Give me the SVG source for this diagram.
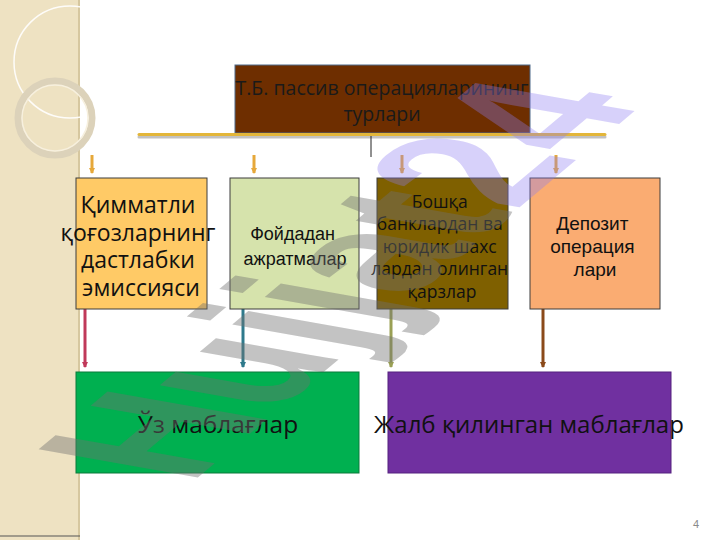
<svg xmlns="http://www.w3.org/2000/svg" width="720" height="540" viewBox="0 0 720 540">
<defs>
<style>
.os{font-family:"Open Sans","Noto Sans","DejaVu Sans",sans-serif;text-anchor:middle}
.ls{font-family:"Liberation Sans",Arial,sans-serif;text-anchor:middle}
.box{stroke:#3d3d3d;stroke-width:1}
.gold{stroke:#E6A83A;stroke-width:3;fill:none}
.wm{font-family:"Liberation Sans",Arial,sans-serif;font-weight:bold}
</style>
<marker id="ag" markerWidth="8" markerHeight="8" refX="4" refY="6" viewBox="0 0 8 8" orient="0" markerUnits="userSpaceOnUse"><path d="M1,1 L4,7 L7,1 Z" fill="#E6A83A"/></marker>
<marker id="a1" markerWidth="8" markerHeight="8" refX="4" refY="6" viewBox="0 0 8 8" orient="0" markerUnits="userSpaceOnUse"><path d="M1,1 L4,7 L7,1 Z" fill="#C0395A"/></marker>
<marker id="a2" markerWidth="8" markerHeight="8" refX="4" refY="6" viewBox="0 0 8 8" orient="0" markerUnits="userSpaceOnUse"><path d="M1,1 L4,7 L7,1 Z" fill="#2F7A8C"/></marker>
<marker id="a3" markerWidth="8" markerHeight="8" refX="4" refY="6" viewBox="0 0 8 8" orient="0" markerUnits="userSpaceOnUse"><path d="M1,1 L4,7 L7,1 Z" fill="#9AA055"/></marker>
<marker id="a4" markerWidth="8" markerHeight="8" refX="4" refY="6" viewBox="0 0 8 8" orient="0" markerUnits="userSpaceOnUse"><path d="M1,1 L4,7 L7,1 Z" fill="#8B4A1A"/></marker>
</defs>
<rect width="720" height="540" fill="#ffffff"/>
<g id="sidebar">
<rect x="0" y="0" width="80" height="540" fill="#EEE2C2"/>
<line x1="79" y1="0" x2="79" y2="540" stroke="#D6C79F" stroke-width="2"/>
<line x1="0" y1="536" x2="80" y2="536" stroke="#555" stroke-width="1"/>
<circle cx="70" cy="62" r="56" fill="none" stroke="#FFFFFF" stroke-width="1.5" opacity="0.9"/>
<circle cx="55" cy="118" r="37" fill="none" stroke="#DCD2BA" stroke-width="7"/>
<circle cx="55" cy="118" r="33" fill="none" stroke="#F7F0DE" stroke-width="1.5"/>
</g>
<g id="title">
<rect x="235" y="65" width="295" height="68" fill="#6E2E00" stroke="#4F6A8A" stroke-width="1"/>
<text class="os" x="382" y="95" font-size="19.5" fill="#1a1a1a">Т.Б. пассив операцияларининг</text>
<text class="os" x="382" y="121" font-size="19.5" fill="#1a1a1a">турлари</text>
</g>
<g id="connectors">
<line x1="139" y1="137" x2="605" y2="137" stroke="#9a9a9a" stroke-width="3" opacity="0.6" stroke-linecap="round"/>
<line x1="139" y1="134.5" x2="605" y2="134.5" stroke="#E3B63A" stroke-width="3" stroke-linecap="round"/>
<line x1="371" y1="136" x2="371" y2="157" stroke="#222" stroke-width="1"/>
<line class="gold" x1="92" y1="155" x2="92" y2="173" marker-end="url(#ag)"/>
<line class="gold" x1="254" y1="155" x2="254" y2="173" marker-end="url(#ag)"/>
<line class="gold" x1="402" y1="155" x2="402" y2="173" marker-end="url(#ag)"/>
<line class="gold" x1="556" y1="155" x2="556" y2="173" marker-end="url(#ag)"/>
<line x1="85" y1="309" x2="85" y2="367" stroke="#C0395A" stroke-width="3" marker-end="url(#a1)"/>
<line x1="243" y1="309" x2="243" y2="367" stroke="#2F7A8C" stroke-width="3" marker-end="url(#a2)"/>
<line x1="391" y1="309" x2="391" y2="367" stroke="#9AA055" stroke-width="3" marker-end="url(#a3)"/>
<line x1="543" y1="309" x2="543" y2="367" stroke="#8B4A1A" stroke-width="3" marker-end="url(#a4)"/>
</g>
<g id="n1">
<rect class="box" x="76" y="178" width="131" height="131" fill="#FFCA66"/>
<text class="os" font-size="23" fill="#111">
<tspan x="141" y="213">Қимматли</tspan>
<tspan x="141" y="241">қоғозларнинг</tspan>
<tspan x="141" y="268">дастлабки</tspan>
<tspan x="141" y="296">эмиссияси</tspan>
</text>
</g>
<g id="n2">
<rect class="box" x="230" y="178" width="129" height="131" fill="#D6E3AC"/>
<text class="ls" font-size="18" fill="#111">
<tspan x="295" y="240">Фойдадан</tspan>
<tspan x="295" y="265">ажратмалар</tspan>
</text>
</g>
<g id="n3">
<rect class="box" x="377" y="178" width="131" height="131" fill="#7F6000"/>
<text class="os" font-size="17.5" fill="#111">
<tspan x="442" y="208">Бошқа</tspan>
<tspan x="442" y="230">банклардан ва</tspan>
<tspan x="442" y="253">юридик шахс</tspan>
<tspan x="442" y="275">лардан олинган</tspan>
<tspan x="442" y="298">қарзлар</tspan>
</text>
</g>
<g id="n4">
<rect class="box" x="530" y="178" width="130" height="131" fill="#FAAC72"/>
<text class="ls" font-size="19" fill="#111">
<tspan x="595" y="230">Депозит</tspan>
<tspan x="595" y="253">операция</tspan>
<tspan x="595" y="276">лари</tspan>
</text>
</g>
<g id="n5">
<rect x="76" y="372" width="283" height="101" fill="#00B050" stroke="#0B7B3B" stroke-width="1"/>
<text class="os" x="218" y="433" font-size="24.5" fill="#111">Ўз маблағлар</text>
</g>
<g id="n6">
<rect x="388" y="372" width="283" height="101" fill="#7030A0" stroke="#55207F" stroke-width="1"/>
<text class="os" x="529" y="433" font-size="24" fill="#111">Жалб қилинган маблағлар</text>
</g>
<text x="696" y="528" font-family="Liberation Sans,Arial,sans-serif" font-size="11" fill="#8a8a8a" text-anchor="middle">4</text>
<g id="watermark">
<text class="wm" transform="translate(190,484) rotate(-40) skewX(40) scale(0.85,1)" font-size="180"><tspan fill="#6f6f6f" fill-opacity="0.42">Hujjat</tspan><tspan fill="#8C7CF0" fill-opacity="0.35">24</tspan></text>
</g>
</svg>
